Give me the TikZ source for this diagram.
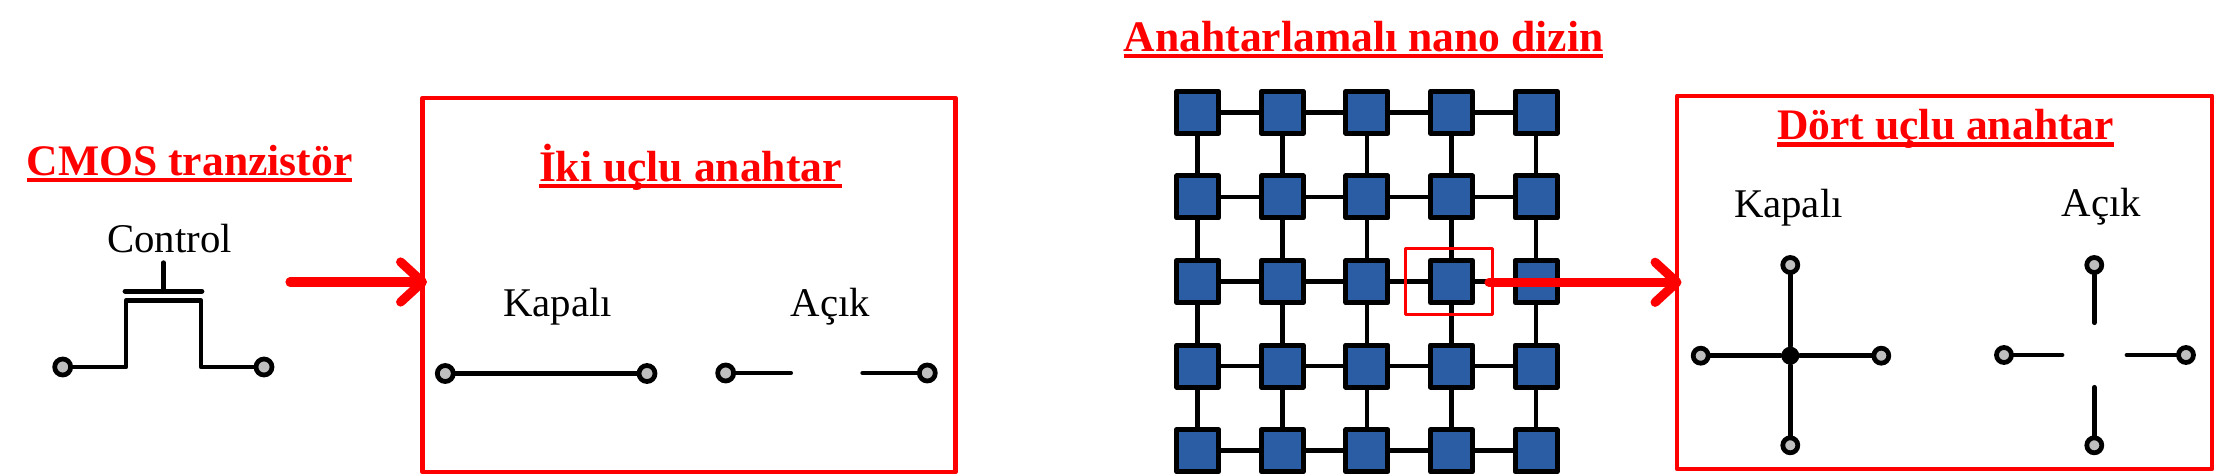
\documentclass[tikz,border=0pt]{standalone}
\usepackage{fontspec}
\setmainfont{Liberation Serif}
\usetikzlibrary{arrows.meta}
\definecolor{CellClr}{rgb}{0.165,0.365,0.64}
\definecolor{TermClr}{rgb}{0.75,0.75,0.75}
\newcommand{\ulTxt}[1]{\vtop{\hbox{\smash{#1}}\kern.65pt\hrule height1.2pt}}
\tikzset{
  wire/.style={line width=1.35pt,line cap=round,line join=round},
  term/.style={circle,draw,line width=1.35pt,fill=TermClr,inner sep=0pt,minimum size=.16cm},
  termSm/.style={term,minimum size=.15cm},
  cell/.style={rectangle,draw,line width=1.4pt,line join=round,fill=CellClr,inner sep=0pt,minimum size=.42cm},
  headTxt/.style={anchor=base west,inner sep=0pt,text=red,font=\fontsize{12.4}{14}\selectfont\bfseries},
  plainTxt/.style={anchor=base west,inner sep=0pt,font=\fontsize{11.6}{14}\selectfont},
  frameBox/.style={rectangle,draw=red,line width=1.2pt,line join=round,inner sep=0pt},
  bigArrow/.style={red,line width=2.6pt,line cap=round,
    -{Straight Barb[length=6.2pt,width=11.4pt,round]}}
}

\begin{document}
\begin{tikzpicture}[x=.01cm,y=-.01cm]
\useasboundingbox (0,0) rectangle (2217,476);

% transistor
\node[headTxt] (cmosT) at (26,175.5) {\ulTxt{CMOS tranzistör}};
\node[plainTxt] (ctrlT) at (106.5,252.7) {Control};
\node[term] (srcA) at (62.7,367) {};
\node[term] (srcB) at (264,367) {};
\coordinate (chanA) at (126,300.7);
\coordinate (chanB) at (201,300.7);
\coordinate (gateA) at (125,291.3);
\coordinate (gateB) at (202,291.3);
\coordinate (gateM) at (163.3,291.3);
\coordinate (gateC) at (163.3,262.7);
\draw[wire] (srcA) -| (chanA) -- (chanB) |- (srcB);
\draw[wire] (gateA) -- (gateB);
\draw[wire] (gateM) -- (gateC);

% two terminal switch
\node[frameBox,minimum width=5.325cm,minimum height=3.74cm] (twoBox) at (689,285) {};
\node[headTxt] (twoT) at (538.3,181.7) {\ulTxt{İki uçlu anahtar}};
\node[plainTxt] (twoOn) at (502.6,317) {Kapalı};
\node[plainTxt] (twoOff) at (790,317) {Açık};
\node[term] (onA) at (445.3,373.5) {};
\node[term] (onB) at (647,373.5) {};
\draw[wire] (onA) -- (onB);
\node[term] (offA) at (725.7,373) {};
\node[term] (offB) at (927.3,373) {};
\coordinate (offAe) at (790.7,373);
\coordinate (offBe) at (862.7,373);
\draw[wire] (offA) -- (offAe);
\draw[wire] (offB) -- (offBe);

\coordinate (arrAs) at (290,282);
\coordinate (arrAe) at (427,282);
\draw[bigArrow] (arrAs) -- (arrAe);

% nano array
\node[headTxt] (arrayT) at (1123,51.7) {\ulTxt{Anahtarlamalı nano dizin}};
\foreach \c in {0,...,4}
  \foreach \r in {0,...,4}
    \node[cell] (c\c r\r) at ({1197.7+84.6*\c},{112.3+84.6*\r}) {};
\foreach \c in {0,...,4}
  \foreach \r [count=\s from 1] in {0,...,3} {
    \draw[wire] (c\c r\r) -- (c\c r\s);
    \draw[wire] (c\r r\c) -- (c\s r\c);
  }
\node[frameBox,line width=.85pt,minimum width=.867cm,minimum height=.656cm] (pickBox) at (1449.3,281.5) {};

% four terminal switch
\node[frameBox,minimum width=5.35cm,minimum height=3.73cm] (fourBox) at (1944.5,282.4) {};
\node[headTxt] (fourT) at (1776.5,140) {\ulTxt{Dört uçlu anahtar}};
\node[plainTxt] (fourOn) at (1733.3,218) {Kapalı};
\node[plainTxt] (fourOff) at (2061,217) {Açık};
\node[circle,fill=black,inner sep=0pt,minimum size=.18cm] (hub) at (1790.3,355.7) {};
\node[termSm] (hubN) at (1790.3,265) {};
\node[termSm] (hubS) at (1790.3,445.3) {};
\node[termSm] (hubW) at (1700.7,355.7) {};
\node[termSm] (hubE) at (1881.3,355.7) {};
\foreach \t in {hubN,hubS,hubW,hubE}
  \draw[wire] (hub) -- (\t);
\node[termSm] (gapN) at (2094.3,265) {};
\node[termSm] (gapS) at (2094.3,445.3) {};
\node[termSm] (gapW) at (2004,355) {};
\node[termSm] (gapE) at (2186,355) {};
\coordinate (stubN) at (2094.3,322.7);
\coordinate (stubS) at (2094.3,387.3);
\coordinate (stubW) at (2062,355);
\coordinate (stubE) at (2127,355);
\draw[wire] (gapN) -- (stubN);
\draw[wire] (gapS) -- (stubS);
\draw[wire] (gapW) -- (stubW);
\draw[wire] (gapE) -- (stubE);

\coordinate (arrBs) at (1489,282.3);
\coordinate (arrBe) at (1681.5,282.3);
\draw[bigArrow] (arrBs) -- (arrBe);
\end{tikzpicture}
\end{document}
